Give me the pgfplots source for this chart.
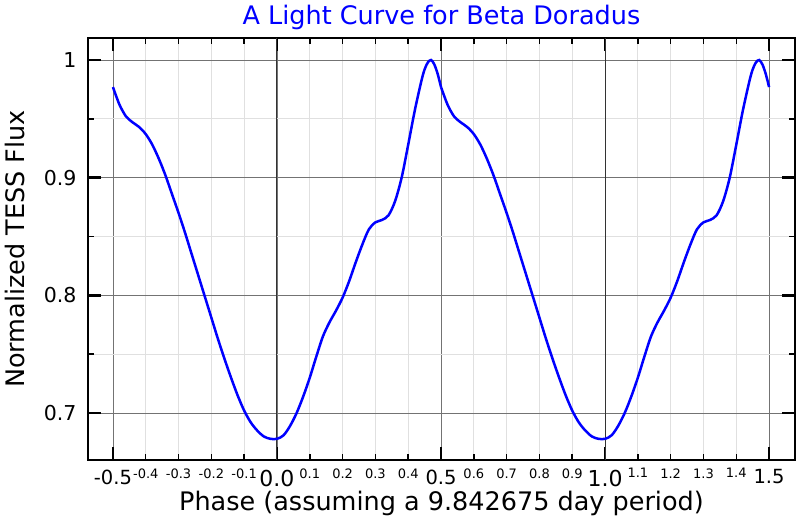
\documentclass[border=0pt]{standalone}
\usepackage{fontspec}
\setmainfont{DejaVu Sans}
\usepackage{pgfplots}
\usepackage{pgfplotstable}
\pgfplotsset{compat=1.18}

% one cycle of the light curve, phase -0.5 .. 0.5
\pgfplotstableread{
ph flux
-0.50 0.977
-0.48 0.962
-0.46 0.952
-0.44 0.947
-0.42 0.943
-0.40 0.937
-0.38 0.928
-0.36 0.916
-0.34 0.902
-0.32 0.886
-0.30 0.870
-0.28 0.853
-0.26 0.835
-0.24 0.817
-0.22 0.799
-0.20 0.781
-0.18 0.763
-0.16 0.746
-0.14 0.730
-0.12 0.715
-0.10 0.702
-0.08 0.692
-0.06 0.685
-0.04 0.680
-0.02 0.678
0.00 0.678
0.02 0.681
0.04 0.689
0.06 0.700
0.08 0.714
0.10 0.730
0.12 0.748
0.14 0.765
0.16 0.777
0.18 0.787
0.20 0.798
0.22 0.812
0.24 0.828
0.26 0.843
0.28 0.856
0.30 0.862
0.32 0.864
0.34 0.868
0.36 0.880
0.38 0.900
0.40 0.928
0.42 0.957
0.44 0.982
0.45 0.992
0.46 0.998
0.47 1.000
0.48 0.996
0.49 0.988
0.50 0.977
}\cycleA

% the same cycle, phase 0.5 .. 1.5
\pgfplotstableread{
ph flux
0.50 0.977
0.52 0.962
0.54 0.952
0.56 0.947
0.58 0.943
0.60 0.937
0.62 0.928
0.64 0.916
0.66 0.902
0.68 0.886
0.70 0.870
0.72 0.853
0.74 0.835
0.76 0.817
0.78 0.799
0.80 0.781
0.82 0.763
0.84 0.746
0.86 0.730
0.88 0.715
0.90 0.702
0.92 0.692
0.94 0.685
0.96 0.680
0.98 0.678
1.00 0.678
1.02 0.681
1.04 0.689
1.06 0.700
1.08 0.714
1.10 0.730
1.12 0.748
1.14 0.765
1.16 0.777
1.18 0.787
1.20 0.798
1.22 0.812
1.24 0.828
1.26 0.843
1.28 0.856
1.30 0.862
1.32 0.864
1.34 0.868
1.36 0.880
1.38 0.900
1.40 0.928
1.42 0.957
1.44 0.982
1.45 0.992
1.46 0.998
1.47 1.000
1.48 0.996
1.49 0.988
1.50 0.977
}\cycleB

\newcommand{\fs}[1]{\fontsize{#1}{#1}\selectfont}

\begin{document}
\begin{tikzpicture}
\path[use as bounding box] (-88pt,-60pt) rectangle (712pt,460pt);
\begin{axis}[
  scale only axis, width=707pt, height=422pt,
  xmin=-0.576, xmax=1.579, ymin=0.66, ymax=1.0187,
  axis line style={line width=2.4pt},
  tick align=inside,
  xtick={-0.5,0,0.5,1,1.5},
  xticklabels={{\fs{19.5}-0.5},{\fs{22}\rule{0pt}{16.5pt}0.0},{\fs{19.5}0.5},{\fs{22}\rule{0pt}{16.5pt}1.0},{\fs{19.5}1.5}},
  x tick label style={inner sep=0pt, yshift=-9.5pt},
  minor x tick num=4,
  extra x ticks={-0.4,-0.3,-0.2,-0.1,0.1,0.2,0.3,0.4,0.6,0.7,0.8,0.9,1.1,1.2,1.3,1.4},
  extra x tick labels={-0.4,-0.3,-0.2,-0.1,0.1,0.2,0.3,0.4,0.6,0.7,0.8,0.9,1.1,1.2,1.3,1.4},
  extra x tick style={grid=none, tick style={draw=none},
    tick label style={font=\fs{13}, yshift=1.2pt}},
  ytick={0.7,0.8,0.9,1}, yticklabels={0.7,0.8,0.9,1},
  y tick label style={font=\fs{20.5}, xshift=-8pt},
  minor y tick num=1,
  grid=both,
  major grid style={black!55, line width=0.8pt},
  minor grid style={black!12, line width=0.8pt},
  major tick style={line width=2.5pt, black},
  minor tick style={line width=1.5pt, black},
  major tick length=13pt, minor tick length=6pt,
  title={A Light Curve for Beta Doradus},
  title style={font=\fs{25.5}, text=blue, yshift=-1pt},
  xlabel={Phase (assuming a 9.842675 day period)},
  ylabel={Normalized TESS Flux},
  label style={font=\fs{25.5}},
  xlabel style={inner sep=0pt, yshift=-4pt},
  ylabel style={yshift=12pt},
]
\draw[black!80, line width=1pt] (axis cs:0,0.66) -- (axis cs:0,1.0187);
\draw[black!80, line width=1pt] (axis cs:1,0.66) -- (axis cs:1,1.0187);
\addplot[blue, line width=2.5pt, smooth] table[x=ph, y=flux] {\cycleA};
\addplot[blue, line width=2.5pt, smooth] table[x=ph, y=flux] {\cycleB};
\end{axis}
\end{tikzpicture}
\end{document}
